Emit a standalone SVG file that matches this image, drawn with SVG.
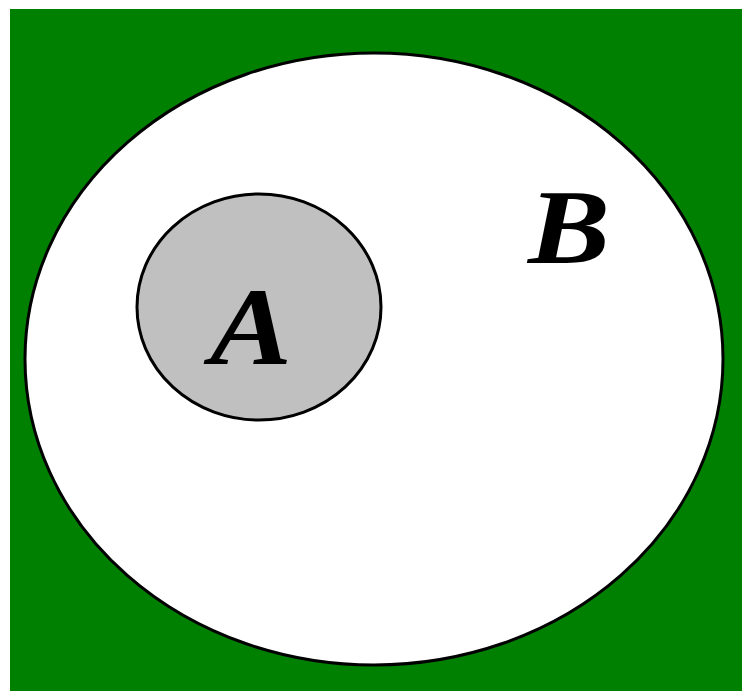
<svg xmlns="http://www.w3.org/2000/svg" width="742" height="691" viewBox="0 0 742 691">
<style>
.lbl{font-family:"Liberation Serif","Times New Roman",serif;font-weight:bold;font-style:italic;fill:#000}
</style>
<rect x="0" y="0" width="742" height="691" fill="#ffffff"/>
<g id="universe"><rect x="10" y="9" width="732" height="682" fill="#008000"/></g>
<g id="B">
<ellipse cx="374" cy="359" rx="349" ry="306" fill="#ffffff" stroke="#000" stroke-width="3"/>
<text class="lbl" x="528" y="263" font-size="106" textLength="82" lengthAdjust="spacingAndGlyphs">B</text>
</g>
<g id="A">
<ellipse cx="259" cy="307" rx="122" ry="113" fill="#c0c0c0" stroke="#000" stroke-width="3"/>
<text class="lbl" x="210" y="364" font-size="110" textLength="82" lengthAdjust="spacingAndGlyphs">A</text>
</g>
<g id="connectors"></g>
</svg>
